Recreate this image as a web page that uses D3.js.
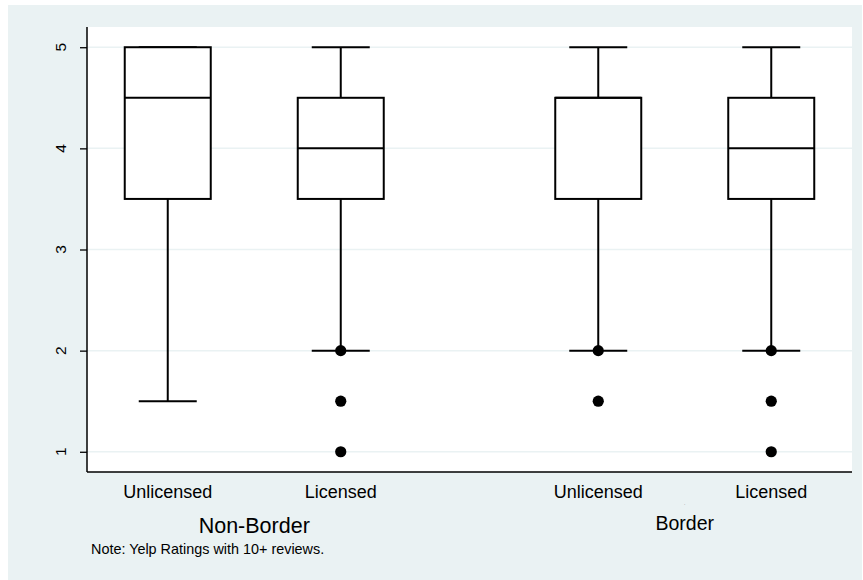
<!DOCTYPE html>
<html>
<head>
<meta charset="utf-8">
<script src="https://cdn.jsdelivr.net/npm/d3@7"></script>
<style>
  html, body { margin: 0; padding: 0; background: #ffffff; }
  svg { display: block; font-family: "Liberation Sans", Arial, Helvetica, sans-serif; }
</style>
</head>
<body>
<svg id="chart" width="863" height="580"></svg>
<script>
// ---- data ----
const groups = ["Non-Border", "Border"];
const licenses = ["Unlicensed", "Licensed"];
const boxGroup = ["Non-Border", "Non-Border", "Border", "Border"];
const boxLicense = ["Unlicensed", "Licensed", "Unlicensed", "Licensed"];
const lowerWhisker = [1.5, 2, 2, 2];
const q1 = [3.5, 3.5, 3.5, 3.5];
const median = [4.5, 4, 4.5, 4];
const q3 = [5, 4.5, 4.5, 4.5];
const upperWhisker = [5, 5, 5, 5];
const outliers = [[], [2, 1.5, 1], [2, 1.5], [2, 1.5, 1]];
const yTicks = [1, 2, 3, 4, 5];
const note = "Note: Yelp Ratings with 10+ reviews.";

// ---- layout ----
const svg = d3.select("#chart");
const plot = { left: 87, right: 852, top: 27, bottom: 472 };
const bg = "#eaf2f3";

svg.append("rect").attr("x", 8).attr("y", 5).attr("width", 854).attr("height", 575).attr("fill", bg);
svg.append("rect").attr("x", plot.left).attr("y", plot.top)
  .attr("width", plot.right - plot.left).attr("height", plot.bottom - plot.top).attr("fill", "#ffffff");

const y = d3.scaleLinear().domain([0.8, 5.2]).range([plot.bottom, plot.top]);
const xGroup = d3.scalePoint().domain(groups).range([plot.left, plot.right]).padding(0.3885);
const xInner = d3.scalePoint().domain(licenses).range([-86.5, 86.5]);
const boxW = 86, capW = 58;

const boxes = boxGroup.map((g, i) => ({
  g, lic: boxLicense[i], lo: lowerWhisker[i], q1: q1[i], med: median[i], q3: q3[i], hi: upperWhisker[i], out: outliers[i],
  cx: xGroup(g) + xInner(boxLicense[i])
}));

// grid
svg.append("g").selectAll("line").data(yTicks).join("line")
  .attr("x1", plot.left).attr("x2", plot.right)
  .attr("y1", d => y(d)).attr("y2", d => y(d))
  .attr("stroke", bg).attr("stroke-width", 1.5);

// boxes
const bx = svg.append("g");
boxes.forEach(b => {
  const g = bx.append("g");
  g.append("line").attr("x1", b.cx).attr("x2", b.cx).attr("y1", y(b.q1)).attr("y2", y(b.lo))
    .attr("stroke", "#000").attr("stroke-width", 2);
  g.append("line").attr("x1", b.cx).attr("x2", b.cx).attr("y1", y(b.q3)).attr("y2", y(b.hi))
    .attr("stroke", "#000").attr("stroke-width", 2);
  g.append("line").attr("x1", b.cx - capW / 2).attr("x2", b.cx + capW / 2).attr("y1", y(b.lo)).attr("y2", y(b.lo))
    .attr("stroke", "#000").attr("stroke-width", 2);
  g.append("line").attr("x1", b.cx - capW / 2).attr("x2", b.cx + capW / 2).attr("y1", y(b.hi)).attr("y2", y(b.hi))
    .attr("stroke", "#000").attr("stroke-width", 2);
  g.append("rect").attr("x", b.cx - boxW / 2).attr("y", y(b.q3))
    .attr("width", boxW).attr("height", y(b.q1) - y(b.q3))
    .attr("fill", "#ffffff").attr("stroke", "#000").attr("stroke-width", 2);
  g.append("line").attr("x1", b.cx - boxW / 2).attr("x2", b.cx + boxW / 2).attr("y1", y(b.med)).attr("y2", y(b.med))
    .attr("stroke", "#000").attr("stroke-width", 2);
  g.selectAll("circle").data(b.out).join("circle")
    .attr("cx", b.cx).attr("cy", d => y(d)).attr("r", 5.6).attr("fill", "#000");
});

// y axis ticks
const yAxis = svg.append("g").attr("transform", `translate(${plot.left},0)`)
  .call(d3.axisLeft(y).tickValues(yTicks).tickSize(7).tickFormat(""));
yAxis.select(".domain").remove();
yAxis.selectAll(".tick line").attr("stroke", "#000").attr("stroke-width", 1.3);

// y tick labels (rotated)
svg.append("g").selectAll("text").data(yTicks).join("text")
  .attr("transform", d => `translate(66,${y(d)}) rotate(-90)`)
  .attr("text-anchor", "middle")
  .style("font-size", "15.5px").style("fill", "#000")
  .text(d => d3.format("d")(d));

svg.append("line").attr("x1", plot.left).attr("x2", plot.left).attr("y1", plot.top).attr("y2", plot.bottom)
  .attr("stroke", "#000").attr("stroke-width", 1.5);
svg.append("line").attr("x1", plot.left).attr("x2", plot.right).attr("y1", plot.bottom).attr("y2", plot.bottom)
  .attr("stroke", "#000").attr("stroke-width", 1.5);

// x labels
svg.append("g").selectAll("text").data(boxes).join("text")
  .attr("x", d => d.cx).attr("y", 498).attr("text-anchor", "middle")
  .style("font-size", "18px").style("fill", "#000").text(d => d.lic);

const groupSize = [21.5, 19.5];
const groupBase = [533, 530];
svg.append("g").selectAll("text").data(groups).join("text")
  .attr("x", d => xGroup(d)).attr("y", (d, i) => groupBase[i]).attr("text-anchor", "middle")
  .style("font-size", (d, i) => groupSize[i] + "px").style("fill", "#000").text(d => d);

svg.append("text").attr("x", xGroup("Border")).attr("y", 505).attr("text-anchor", "middle")
  .style("font-size", "5px").style("fill", "#777").text(".");

svg.append("text").attr("x", 91).attr("y", 554).style("font-size", "14.4px").style("fill", "#000").text(note);
</script>
</body>
</html>
